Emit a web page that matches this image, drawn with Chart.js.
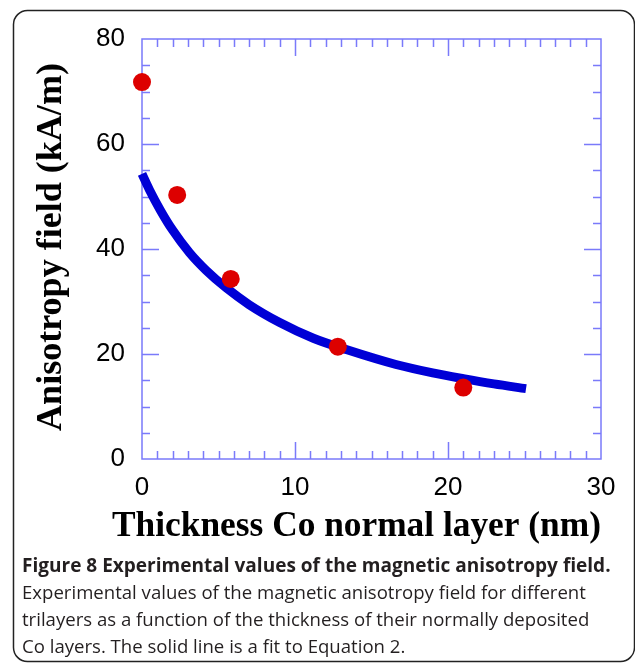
<!DOCTYPE html>
<html>
<head>
<meta charset="utf-8">
<script src="https://cdn.jsdelivr.net/npm/chart.js@4.4.1/dist/chart.umd.min.js"></script>
<style>
  html, body { margin: 0; padding: 0; background: #fff; }
  #wrap { position: relative; width: 635px; height: 664px; }
</style>
</head>
<body>
<div id="wrap"><canvas id="fieldChart" width="635" height="664"></canvas></div>
<script>
// Measured points (red dots)
const thickness = [0, 2.3, 5.8, 12.8, 21.0]
const anisotropy = [71.8, 50.3, 34.3, 21.4, 13.6]

// Fit curve (blue line)
const fitThickness = [0, 0.5, 1.2, 2.0, 3.1, 4.2, 5.5, 7.0, 9.0, 11.2, 13.4, 16.6, 19.0, 21.0, 23.0, 25.1]
const fitField = [54.3, 51.2, 47.4, 43.6, 39.3, 35.9, 32.6, 29.4, 26.0, 23.0, 20.8, 18.0, 16.4, 15.3, 14.3, 13.4]

// Axis ticks
const xTickLabels = [0, 10, 20, 30]
const yTickLabels = [0, 20, 40, 60, 80]
const xMinorStep = 1
const yMinorStep = 5

const xTitle = "Thickness Co normal layer (nm)"
const yTitle = "Anisotropy field (kA/m)"
const captionBold = "Figure 8 Experimental values of the magnetic anisotropy field."
const captionLines = [
  "Experimental values of the magnetic anisotropy field for different",
  "trilayers as a function of the thickness of their normally deposited",
  "Co layers. The solid line is a fit to Equation 2.",
]

const AXIS_COLOR = "rgb(122,122,250)"

// pick a font size so the text spans the width seen in the figure
function fitFont(ctx, text, weight, family, targetWidth) {
  ctx.font = `${weight} 100px ${family}`
  const w = ctx.measureText(text).width
  return (100 * targetWidth) / w
}

const frameAndText = {
  id: "frameAndText",
  beforeDatasetsDraw(chart) {
    const { ctx, chartArea: a, scales } = chart
    const xs = scales.x
    const ys = scales.y
    ctx.save()
    ctx.strokeStyle = AXIS_COLOR
    ctx.lineWidth = 1.5
    ctx.strokeRect(a.left, a.top, a.right - a.left, a.bottom - a.top)

    ctx.beginPath()
    for (let v = xs.min + xMinorStep; v < xs.max; v += xMinorStep) {
      const px = Math.round(xs.getPixelForValue(v)) + 0.5
      const len = xTickLabels.includes(v) ? 17 : 8
      ctx.moveTo(px, a.bottom)
      ctx.lineTo(px, a.bottom - len)
      ctx.moveTo(px, a.top)
      ctx.lineTo(px, a.top + len)
    }
    for (let v = ys.min + yMinorStep; v < ys.max; v += yMinorStep) {
      const py = Math.round(ys.getPixelForValue(v)) + 0.5
      const len = yTickLabels.includes(v) ? 17 : 8
      ctx.moveTo(a.left, py)
      ctx.lineTo(a.left + len, py)
      ctx.moveTo(a.right, py)
      ctx.lineTo(a.right - len, py)
    }
    ctx.stroke()
    ctx.restore()
  },
  afterDraw(chart) {
    const { ctx } = chart
    ctx.save()
    ctx.fillStyle = "#000"

    // axis titles
    let size = fitFont(ctx, xTitle, "bold", "'Liberation Serif'", 489)
    ctx.font = `bold ${size}px 'Liberation Serif'`
    ctx.textAlign = "center"
    ctx.textBaseline = "alphabetic"
    ctx.fillText(xTitle, 356.5, 536)

    size = fitFont(ctx, yTitle, "bold", "'Liberation Serif'", 368)
    ctx.font = `bold ${size}px 'Liberation Serif'`
    ctx.translate(61, 247)
    ctx.rotate(-Math.PI / 2)
    ctx.fillText(yTitle, 0, 0)
    ctx.setTransform(1, 0, 0, 1, 0, 0)

    // caption
    ctx.textAlign = "left"
    ctx.fillStyle = "#231f20"
    size = fitFont(ctx, captionBold, "bold", "'Open Sans'", 589)
    ctx.font = `bold ${size}px 'Open Sans'`
    ctx.fillText(captionBold, 22, 572)
    size = fitFont(ctx, captionLines[0], "normal", "'Open Sans'", 564)
    ctx.font = `normal ${size}px 'Open Sans'`
    captionLines.forEach((line, i) => {
      ctx.fillText(line, 22, 599 + i * 27)
    })

    // rounded frame round the whole figure
    ctx.strokeStyle = "#222"
    ctx.lineWidth = 1.5
    ctx.beginPath()
    ctx.roundRect(13.5, 10.5, 621, 651, 14)
    ctx.stroke()
    ctx.restore()
  },
}

const ctx = document.getElementById("fieldChart")
new Chart(ctx, {
  type: "scatter",
  data: {
    datasets: [
      {
        label: "Experimental",
        data: thickness.map((x, i) => ({ x, y: anisotropy[i] })),
        pointRadius: 9,
        pointBackgroundColor: "#dd0000",
        pointBorderColor: "#dd0000",
        pointBorderWidth: 0,
        clip: false,
      },
      {
        label: "Fit",
        type: "line",
        data: fitThickness.map((x, i) => ({ x, y: fitField[i] })),
        borderColor: "#0000d6",
        borderWidth: 9,
        borderCapStyle: "butt",
        pointRadius: 0,
        cubicInterpolationMode: "monotone",
        fill: false,
        clip: false,
      },
    ],
  },
  options: {
    responsive: false,
    animation: false,
    devicePixelRatio: 1,
    layout: { padding: { top: 39, right: 34, left: 0, bottom: 0 } },
    plugins: { legend: { display: false }, tooltip: { enabled: false } },
    scales: {
      x: {
        type: "linear",
        min: 0,
        max: 30,
        afterFit: (s) => { s.height = 205 },
        afterBuildTicks: (s) => { s.ticks = xTickLabels.map((v) => ({ value: v })) },
        grid: { display: false, drawTicks: false },
        border: { display: false },
        ticks: { color: "#000", padding: 13, font: { family: "'Liberation Sans'", size: 26 } },
      },
      y: {
        type: "linear",
        min: 0,
        max: 80,
        afterFit: (s) => { s.width = 142 },
        afterBuildTicks: (s) => { s.ticks = yTickLabels.map((v) => ({ value: v })) },
        grid: { display: false, drawTicks: false },
        border: { display: false },
        ticks: { color: "#000", padding: 17, font: { family: "'Liberation Sans'", size: 26 } },
      },
    },
  },
  plugins: [frameAndText],
})
</script>
</body>
</html>
